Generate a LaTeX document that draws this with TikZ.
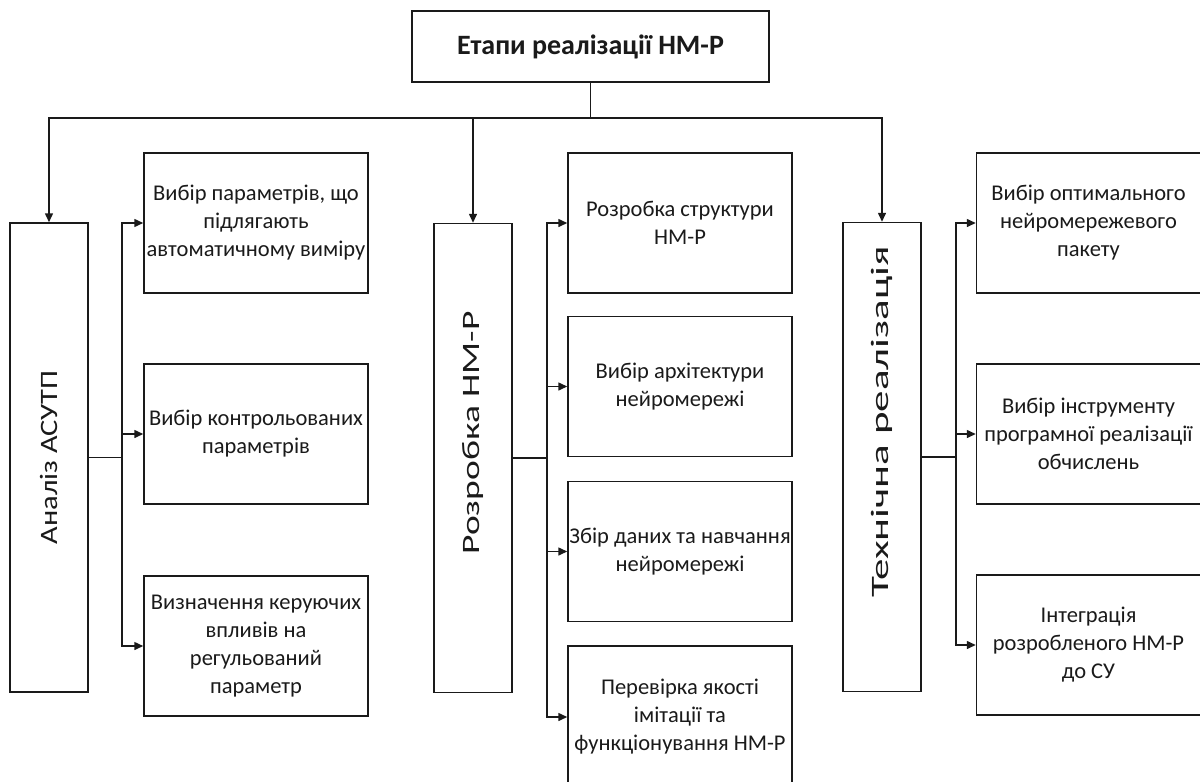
\documentclass[tikz,border=0pt]{standalone}
\usepackage{fontspec}
\setmainfont{Carlito}
\usetikzlibrary{arrows.meta}
\definecolor{inkgray}{HTML}{1A1A1A}

\begin{document}
\begin{tikzpicture}[x=1pt,y=-1pt,line width=1.5pt,
  stagebox/.style={draw=inkgray,fill=white,minimum width=357pt,minimum height=71pt,
    inner sep=0pt,text=inkgray,font=\fontsize{28}{32}\selectfont\bfseries},
  phasebox/.style={draw=inkgray,rotate=90,minimum width=469pt,minimum height=78pt,
    inner sep=0pt,text=inkgray,font=\fontsize{25}{30}\selectfont},
  taskbox/.style={draw=inkgray,minimum width=224pt,minimum height=140pt,inner sep=0pt,
    align=center,text=inkgray,font=\fontsize{22.5}{28}\selectfont},
  arr/.style={draw=inkgray,-{Triangle[length=9pt,width=8pt]}},
  ln/.style={draw=inkgray}]
\useasboundingbox (0,0) rectangle (1200,782);
% stages
\node[stagebox] (etapy) at (590.5,46.5) {Етапи реалізації НМ-Р};
\node[phasebox] (analiz) at (49,457.5) {\scalebox{1.22}[1]{Аналіз АСУТП}};
\node[phasebox] (rozrob) at (473,458) {\hspace*{50pt}\scalebox{1.5}[1]{Розробка НМ-Р}};
\node[phasebox] (tehn) at (882,457) {\hspace*{70pt}\scalebox{1.72}[1]{Технічна реалізація}};
% tasks of analysis
\node[taskbox] (a1) at (256,223) {Вибір параметрів, що\\підлягають\\автоматичному виміру};
\node[taskbox] (a2) at (256,434) {Вибір контрольованих\\параметрів};
\node[taskbox] (a3) at (256,646) {Визначення керуючих\\впливів на\\регульований\\параметр};
% tasks of development
\node[taskbox] (r1) at (680,223) {Розробка структури\\НМ-Р};
\node[taskbox] (r2) at (680,386.5) {Вибір архітектури\\нейромережі};
\node[taskbox] (r3) at (680,551.5) {Збір даних та навчання\\нейромережі};
\node[taskbox,minimum height=142pt] (r4) at (680,717) {Перевірка якості\\імітації та\\функціонування НМ-Р};
% tasks of implementation
\node[taskbox] (t1) at (1088.5,223) {Вибір оптимального\\нейромережевого\\пакету};
\node[taskbox] (t2) at (1088.5,434) {Вибір інструменту\\програмної реалізації\\обчислень};
\node[taskbox] (t3) at (1088.5,645) {Інтеграція\\розробленого НМ-Р\\до СУ};
% top bus
\draw[ln] (etapy.south) -- ++(0,35) coordinate (hub);
\draw[arr] (hub) -| (analiz.east);
\draw[arr] (hub) -| (rozrob.east);
\draw[arr] (hub) -| (tehn.east);
% side buses
\foreach \t in {a1,a2,a3} \draw[arr] (analiz.south) -- ++(33,0) |- (\t.west);
\foreach \t in {r1,r2,r3,r4} \draw[arr] (rozrob.south) -- ++(34,0) |- (\t.west);
\foreach \t in {t1,t2,t3} \draw[arr] (tehn.south) -- ++(34,0) |- (\t.west);
\end{tikzpicture}
\end{document}
